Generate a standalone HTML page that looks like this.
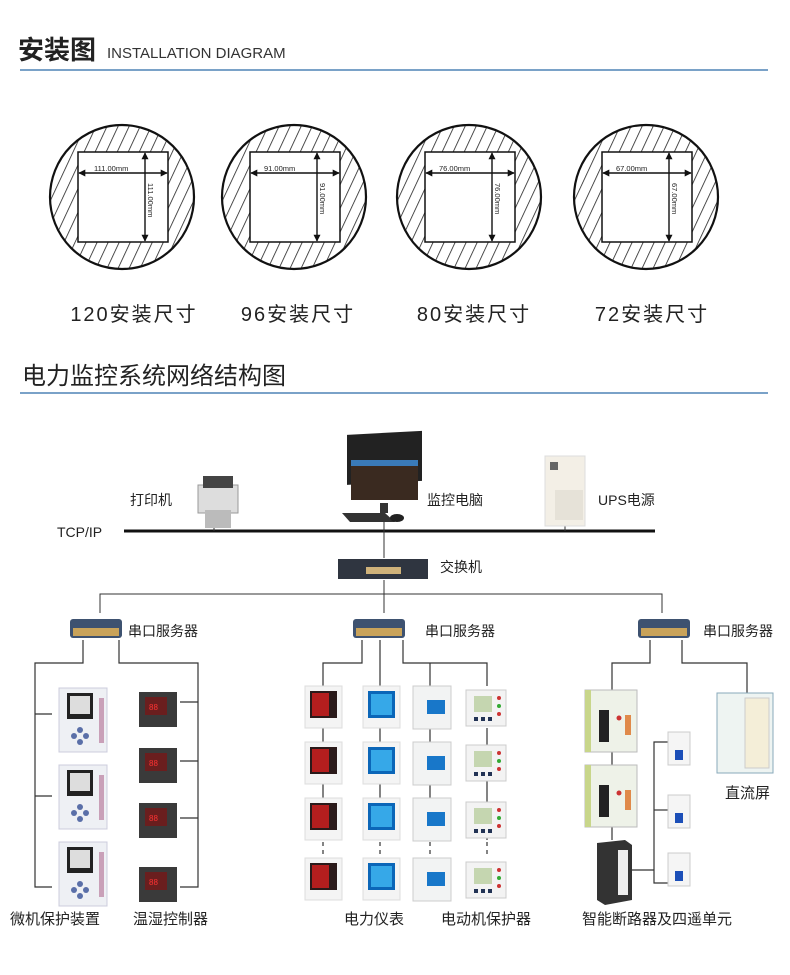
<!DOCTYPE html>
<html><head><meta charset="utf-8"><style>
html,body{margin:0;padding:0;background:#fff;}
svg{display:block;font-family:"Liberation Sans","Noto Sans CJK SC",sans-serif;}
</style></head><body>
<svg width="790" height="975" viewBox="0 0 790 975" xmlns="http://www.w3.org/2000/svg">
<defs>
<pattern id="h" patternUnits="userSpaceOnUse" width="10" height="10" patternTransform="rotate(25)">
<line x1="0" y1="0" x2="0" y2="10" stroke="#222" stroke-width="1.6"/>
</pattern>
<marker id="a" viewBox="0 0 10 10" refX="9" refY="5" markerWidth="7" markerHeight="7" markerUnits="userSpaceOnUse" orient="auto-start-reverse"><path d="M0,0L10,5L0,10z" fill="#111"/></marker>
<g id="mp"><rect x="0" y="0" width="48" height="64" fill="#eef0f4" stroke="#ccd"/><rect x="8" y="5" width="26" height="26" fill="#222"/><rect x="11" y="8" width="20" height="18" fill="#ddd"/><circle cx="21" cy="42" r="3" fill="#5a6fa8"/><circle cx="15" cy="48" r="3" fill="#5a6fa8"/><circle cx="27" cy="48" r="3" fill="#5a6fa8"/><circle cx="21" cy="54" r="3" fill="#5a6fa8"/><rect x="40" y="10" width="5" height="45" fill="#c9a0b8"/></g>
<g id="tc"><rect x="0" y="0" width="38" height="35" fill="#3a3a3a"/><rect x="6" y="5" width="22" height="18" fill="#6a1e1e"/><text x="10" y="18" font-size="8" fill="#f33">88</text></g>
<g id="m1"><rect x="0" y="0" width="37" height="42" fill="#f4f4f4" stroke="#ddd"/><rect x="5" y="5" width="27" height="27" fill="#2a1a1a"/><rect x="7" y="7" width="17" height="23" fill="#b41e1e"/></g>
<g id="m2"><rect x="0" y="0" width="37" height="42" fill="#f4f4f4" stroke="#ddd"/><rect x="5" y="5" width="27" height="27" fill="#0b66b8"/><rect x="8" y="8" width="21" height="21" fill="#36a8e8"/></g>
<g id="m3"><rect x="0" y="0" width="38" height="43" fill="#f2f3f3" stroke="#ccc"/><rect x="14" y="14" width="18" height="14" fill="#1877c9"/></g>
<g id="m4"><rect x="0" y="0" width="40" height="36" fill="#f3f3f3" stroke="#ccc"/><rect x="8" y="6" width="18" height="16" fill="#c5d6b0"/><circle cx="33" cy="8" r="2" fill="#c33"/><circle cx="33" cy="16" r="2" fill="#3a3"/><circle cx="33" cy="24" r="2" fill="#c33"/><rect x="8" y="27" width="4" height="4" fill="#235"/><rect x="15" y="27" width="4" height="4" fill="#235"/><rect x="22" y="27" width="4" height="4" fill="#235"/></g>
<g id="sv"><rect x="0" y="0" width="52" height="19" rx="3" fill="#3e5270"/><rect x="3" y="9" width="46" height="8" fill="#c9a35a"/></g>
<g id="br"><rect x="0" y="0" width="52" height="62" fill="#eef2e8" stroke="#bbb"/><rect x="0" y="0" width="6" height="62" fill="#c8d68a"/><rect x="14" y="20" width="10" height="32" fill="#222"/><circle cx="34" cy="28" r="2.5" fill="#c33"/><rect x="40" y="25" width="6" height="20" fill="#e08a4a"/></g>
<g id="sb"><rect x="0" y="0" width="22" height="33" fill="#f5f5f5" stroke="#ccc"/><rect x="7" y="18" width="8" height="10" fill="#1c4fb8"/></g>
<g id="circ">
<circle cx="122" cy="197" r="72" fill="url(#h)" stroke="#111" stroke-width="2.2"/>
<rect x="78" y="152" width="90" height="90" fill="#fff" stroke="#111" stroke-width="1.5"/>
<line x1="79" y1="173" x2="167" y2="173" stroke="#111" stroke-width="1.4" marker-start="url(#a)" marker-end="url(#a)"/>
<line x1="145" y1="153" x2="145" y2="241" stroke="#111" stroke-width="1.4" marker-start="url(#a)" marker-end="url(#a)"/>
</g>
</defs>

<text x="18" y="59" font-size="26" fill="#222" font-weight="bold">安装图</text>
<text x="107" y="58" font-size="15" fill="#333">INSTALLATION DIAGRAM</text>
<line x1="20" y1="70" x2="768" y2="70" stroke="#2a6aa8" stroke-width="1.2"/>

<use href="#circ"/>
<text x="94" y="171" font-size="7.5" fill="#222">111.00mm</text>
<text x="148" y="183" font-size="7.5" fill="#222" transform="rotate(90 148 183)">111.00mm</text>
<g transform="translate(172,0)"><use href="#circ"/>
<text x="92" y="171" font-size="7.5" fill="#222">91.00mm</text>
<text x="148" y="183" font-size="7.5" fill="#222" transform="rotate(90 148 183)">91.00mm</text></g>
<g transform="translate(347,0)"><use href="#circ"/>
<text x="92" y="171" font-size="7.5" fill="#222">76.00mm</text>
<text x="148" y="183" font-size="7.5" fill="#222" transform="rotate(90 148 183)">76.00mm</text></g>
<g transform="translate(524,0)"><use href="#circ"/>
<text x="92" y="171" font-size="7.5" fill="#222">67.00mm</text>
<text x="148" y="183" font-size="7.5" fill="#222" transform="rotate(90 148 183)">67.00mm</text></g>

<g font-size="20" fill="#222" letter-spacing="2" text-anchor="middle">
<text x="134" y="321">120安装尺寸</text>
<text x="298" y="321">96安装尺寸</text>
<text x="474" y="321">80安装尺寸</text>
<text x="652" y="321">72安装尺寸</text>
</g>

<text x="22" y="384" font-size="24" fill="#222">电力监控系统网络结构图</text>
<line x1="20" y1="393" x2="768" y2="393" stroke="#2a6aa8" stroke-width="1.2"/>

<text x="57" y="537" font-size="14" fill="#222">TCP/IP</text>
<line x1="124" y1="531" x2="655" y2="531" stroke="#111" stroke-width="3"/>
<line x1="214" y1="520" x2="214" y2="531" stroke="#333"/>
<line x1="384" y1="520" x2="384" y2="558" stroke="#333"/>
<line x1="565" y1="524" x2="565" y2="531" stroke="#333"/>
<rect x="198" y="485" width="40" height="28" fill="#ddd" stroke="#999"/><rect x="203" y="476" width="30" height="12" fill="#444"/><rect x="205" y="510" width="26" height="18" fill="#bbb"/>
<text x="130" y="505" font-size="14" fill="#222">打印机</text>
<rect x="347" y="453" width="75" height="50" fill="#222" transform="skewY(-3)"/><rect x="351" y="460" width="67" height="40" fill="#3a2a20"/><rect x="351" y="460" width="67" height="6" fill="#3a7ab8"/>
<rect x="380" y="503" width="8" height="10" fill="#333"/><polygon points="342,513 385,513 395,522 350,522" fill="#333"/><ellipse cx="397" cy="518" rx="7" ry="4" fill="#222"/>
<text x="427" y="505" font-size="14" fill="#222">监控电脑</text>
<rect x="545" y="456" width="40" height="70" fill="#f3efe6" stroke="#ddd"/><rect x="550" y="462" width="8" height="8" fill="#666"/><rect x="555" y="490" width="28" height="30" fill="#e6e2d8"/>
<text x="598" y="505" font-size="14" fill="#222">UPS电源</text>
<rect x="338" y="559" width="90" height="20" fill="#2f3540"/><rect x="366" y="567" width="35" height="7" fill="#cfb27a"/>
<text x="440" y="572" font-size="14" fill="#222">交换机</text>
<line x1="384" y1="580" x2="384" y2="613" stroke="#333"/>
<polyline points="100,613 100,594 662,594 662,613" fill="none" stroke="#333"/>

<use href="#sv" x="70" y="619"/><text x="128" y="636" font-size="14" fill="#222">串口服务器</text>
<use href="#sv" x="353" y="619"/><text x="425" y="636" font-size="14" fill="#222">串口服务器</text>
<use href="#sv" x="638" y="619"/><text x="703" y="636" font-size="14" fill="#222">串口服务器</text>

<g fill="none" stroke="#333" stroke-width="1.2">
<polyline points="83,640 83,663 35,663 35,887 52,887"/>
<line x1="35" y1="714" x2="52" y2="714"/><line x1="35" y1="796" x2="52" y2="796"/>
<polyline points="119,640 119,663 198,663 198,887 180,887"/>
<line x1="198" y1="702" x2="180" y2="702"/><line x1="198" y1="761" x2="180" y2="761"/><line x1="198" y1="818" x2="180" y2="818"/>
<polyline points="362,640 362,663 323,663 323,686"/>
<line x1="380" y1="640" x2="380" y2="686"/>
<polyline points="403,640 403,663 487,663 487,686"/>
<line x1="430" y1="663" x2="430" y2="686"/>
<line x1="323" y1="728" x2="323" y2="840"/><line x1="380" y1="728" x2="380" y2="840"/><line x1="430" y1="728" x2="430" y2="840"/><line x1="487" y1="728" x2="487" y2="840"/>
<line x1="323" y1="842" x2="323" y2="856" stroke-dasharray="4,4"/><line x1="380" y1="842" x2="380" y2="856" stroke-dasharray="4,4"/><line x1="430" y1="842" x2="430" y2="856" stroke-dasharray="4,4"/><line x1="487" y1="842" x2="487" y2="856" stroke-dasharray="4,4"/>
<polyline points="650,640 650,663 612,663 612,690"/>
<polyline points="682,640 682,663 747,663 747,693"/>
<line x1="612" y1="752" x2="612" y2="840"/>
<polyline points="668,742 654,742 654,883 668,883"/>
<line x1="654" y1="810" x2="668" y2="810"/>
<line x1="632" y1="870" x2="654" y2="870"/>
</g>

<use href="#mp" x="59" y="688"/><use href="#mp" x="59" y="765"/><use href="#mp" x="59" y="842"/>
<use href="#tc" x="139" y="692"/><use href="#tc" x="139" y="748"/><use href="#tc" x="139" y="803"/><use href="#tc" x="139" y="867"/>

<use href="#m1" x="305" y="686"/><use href="#m1" x="305" y="742"/><use href="#m1" x="305" y="798"/><use href="#m1" x="305" y="858"/>
<use href="#m2" x="363" y="686"/><use href="#m2" x="363" y="742"/><use href="#m2" x="363" y="798"/><use href="#m2" x="363" y="858"/>
<use href="#m3" x="413" y="686"/><use href="#m3" x="413" y="742"/><use href="#m3" x="413" y="798"/><use href="#m3" x="413" y="858"/>
<use href="#m4" x="466" y="690"/><use href="#m4" x="466" y="745"/><use href="#m4" x="466" y="802"/><use href="#m4" x="466" y="862"/>

<use href="#br" x="585" y="690"/><use href="#br" x="585" y="765"/>
<polygon points="597,843 625,840 632,845 632,900 605,905 597,900" fill="#333"/><rect x="618" y="850" width="10" height="45" fill="#eee"/>
<use href="#sb" x="668" y="732"/><use href="#sb" x="668" y="795"/><use href="#sb" x="668" y="853"/>
<rect x="717" y="693" width="56" height="80" fill="#eef4f2" stroke="#8ab"/><rect x="745" y="698" width="24" height="70" fill="#f4eed8" stroke="#ccc"/>
<text x="725" y="798" font-size="15" fill="#222">直流屏</text>

<g font-size="15" fill="#222">
<text x="10" y="924">微机保护装置</text>
<text x="133" y="924">温湿控制器</text>
<text x="344" y="924">电力仪表</text>
<text x="441" y="924">电动机保护器</text>
<text x="582" y="924">智能断路器及四遥单元</text>
</g>
</svg>
</body></html>
